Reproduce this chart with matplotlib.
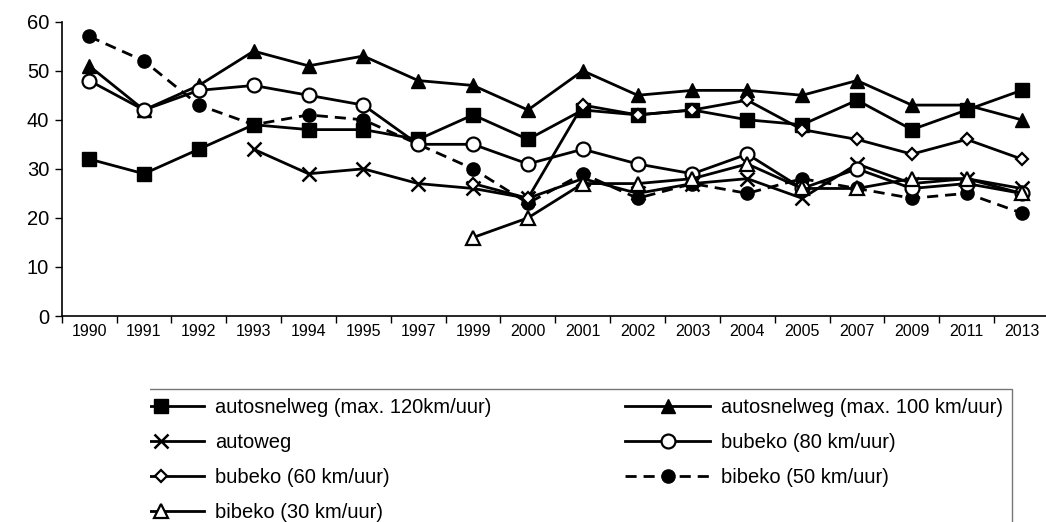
import matplotlib
matplotlib.use("Agg")
import matplotlib.pyplot as plt
import numpy as np
from matplotlib.patches import Rectangle

plt.rcParams["font.family"] = ["Liberation Sans", "DejaVu Sans"]

# Data
YEARS = ["1990", "1991", "1992", "1993", "1994", "1995", "1997", "1999", "2000",
         "2001", "2002", "2003", "2004", "2005", "2007", "2009", "2011", "2013"]
N = np.nan
AUTOSNELWEG_120 = [32, 29, 34, 39, 38, 38, 36, 41, 36, 42, 41, 42, 40, 39, 44, 38, 42, 46]
AUTOSNELWEG_100 = [51, 42, 47, 54, 51, 53, 48, 47, 42, 50, 45, 46, 46, 45, 48, 43, 43, 40]
AUTOWEG = [N, N, N, 34, 29, 30, 27, 26, 24, 28, 25, 27, 28, 24, 31, 27, 28, 26]
BUBEKO_80 = [48, 42, 46, 47, 45, 43, 35, 35, 31, 34, 31, 29, 33, 26, 30, 26, 27, 25]
BUBEKO_60 = [N, N, N, N, N, N, N, 27, 24, 43, 41, 42, 44, 38, 36, 33, 36, 32]
BIBEKO_50 = [57, 52, 43, 39, 41, 40, 35, 30, 23, 29, 24, 27, 25, 28, 26, 24, 25, 21]
BIBEKO_30 = [N, N, N, N, N, N, N, 16, 20, 27, 27, 28, 31, 26, 26, 28, 28, 25]

W, H = 1046, 522
fig = plt.figure(figsize=(W / 100, H / 100), dpi=100)
ax = fig.add_axes([61.7 / W, (H - 316) / H, (1049 - 61.7) / W, (316 - 21.7) / H])

x = np.arange(len(YEARS))
lw = 2.0

l100, = ax.plot(x, AUTOSNELWEG_100, color="black", lw=lw, marker="^", ms=10.5,
                mfc="black", mec="black", zorder=2, label="autosnelweg (max. 100 km/uur)")
l50, = ax.plot(x, BIBEKO_50, color="black", lw=lw, ls=(0, (4, 2.5)), marker="o", ms=9.5,
               mfc="black", mec="black", zorder=3, label="bibeko (50 km/uur)")
l120, = ax.plot(x, AUTOSNELWEG_120, color="black", lw=lw, marker="s", ms=10.5,
                mfc="black", mec="black", zorder=4, label="autosnelweg (max. 120km/uur)")
lauto, = ax.plot(x, AUTOWEG, color="black", lw=lw, marker="x", ms=10.5, mew=1.8,
                 zorder=5, label="autoweg")
l80, = ax.plot(x, BUBEKO_80, color="black", lw=lw, marker="o", ms=10, mew=1.6,
               mfc="white", mec="black", zorder=6, label="bubeko (80 km/uur)")
l60, = ax.plot(x, BUBEKO_60, color="black", lw=lw, marker="D", ms=6.5, mew=1.6,
               mfc="white", mec="black", zorder=7, label="bubeko (60 km/uur)")
l30, = ax.plot(x, BIBEKO_30, color="black", lw=lw, marker="^", ms=10.5, mew=1.6,
               mfc="white", mec="black", zorder=8, label="bibeko (30 km/uur)")

# axes styling (Excel look)
ax.set_ylim(0, 60)
ax.set_yticks(np.arange(0, 61, 10))
ax.set_xlim(-0.5, len(YEARS) - 0.5)
ax.set_xticks(np.arange(len(YEARS) + 1) - 0.5)
ax.set_xticklabels([])
ax.set_xticks(x, minor=True)
ax.set_xticklabels(YEARS, minor=True, fontsize=11.5)
ax.tick_params(axis="x", which="major", direction="out", length=5, width=1)
ax.tick_params(axis="x", which="minor", length=0, pad=6)
ax.tick_params(axis="y", direction="out", length=5, width=1, labelsize=14.5, pad=4)
for side in ["top", "right"]:
    ax.spines[side].set_visible(False)
for side in ["left", "bottom"]:
    ax.spines[side].set_linewidth(1.2)

# legend: row-major order in two columns
handles = [l120, lauto, l60, l30, l100, l80, l50]
fs = 14.5
leg = ax.legend(handles, [h.get_label() for h in handles], ncol=2, fontsize=fs,
                loc="upper left", mode="expand",
                bbox_to_anchor=(110 / W, 0, (1012 - 110) / W, (H - 389) / H),
                bbox_transform=fig.transFigure,
                handlelength=4.2, handletextpad=0.55, labelspacing=0.8,
                borderpad=0.45, borderaxespad=0, columnspacing=1.0,
                frameon=True, fancybox=False, edgecolor="#555555")
leg.get_frame().set_linewidth(1.0)

# the legend is cut off on the left edge in the original
fig.add_artist(Rectangle((0, 0), 150 / W, 137 / H, transform=fig.transFigure,
                         facecolor="white", edgecolor="none", zorder=10))

fig.savefig("out.png", dpi=100)
